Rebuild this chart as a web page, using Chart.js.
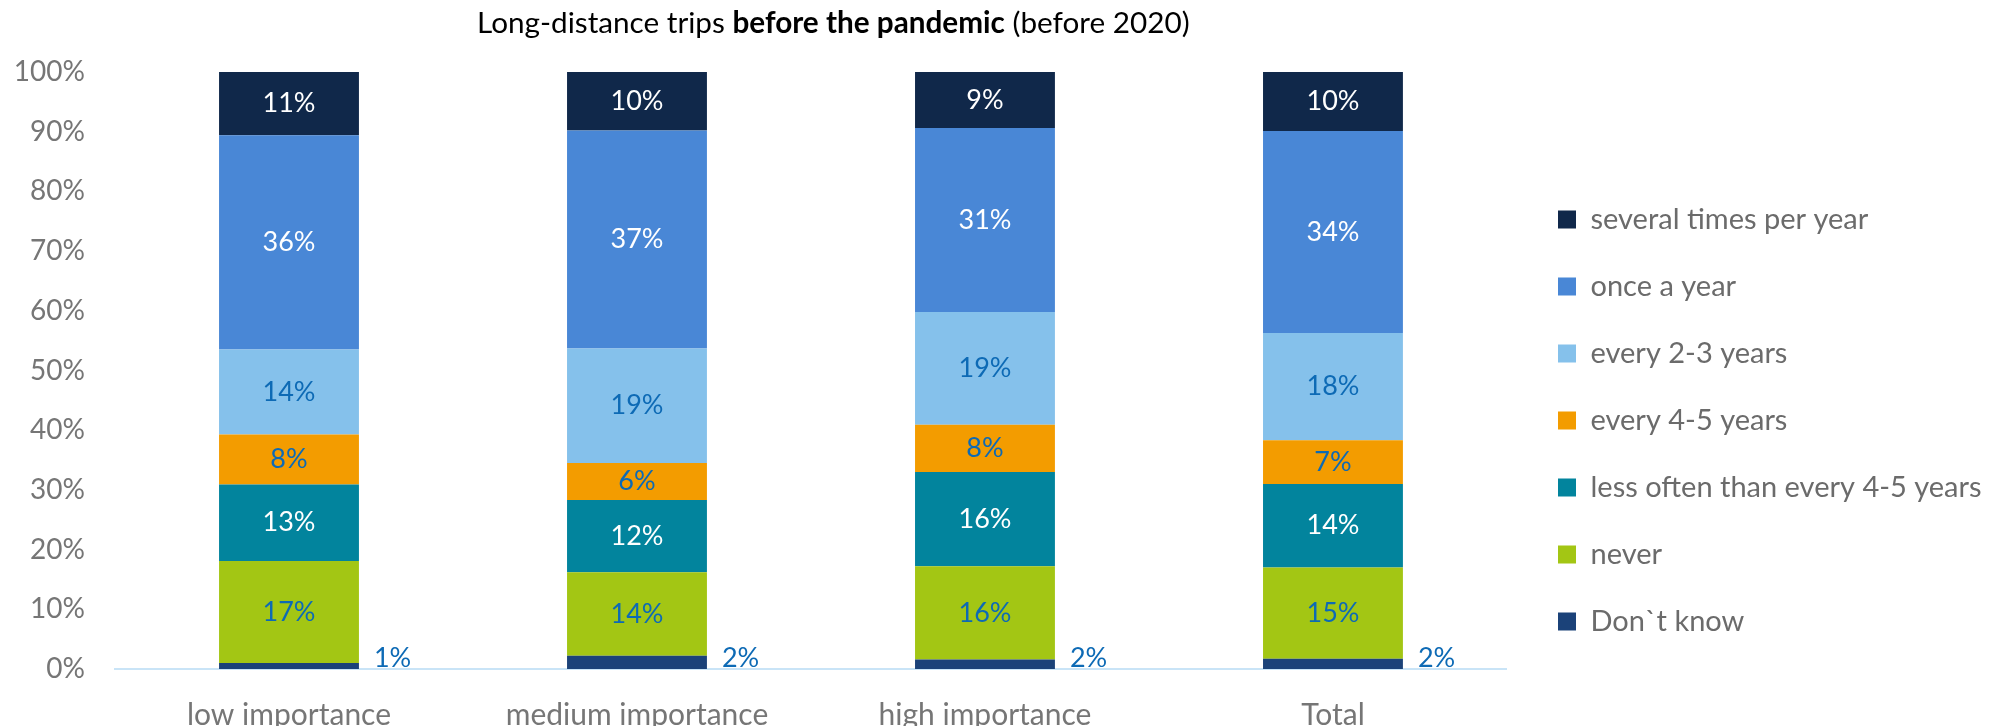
<!DOCTYPE html>
<html>
<head>
  <title>Long-distance trips before the pandemic</title>
  <script src="https://cdn.jsdelivr.net/npm/chart.js"></script>
  <style>
    body { margin: 0; background: #fff; font-family: Lato, sans-serif; }
    #wrap { position: relative; width: 2000px; height: 726px; }
    #title { position: absolute; left: 477px; top: 4px; font-size: 29.7px; color: #000; white-space: nowrap; }
  </style>
</head>
<body>
  <div id="wrap">
    <div id="title">Long-distance trips <b>before the pandemic</b> (before 2020)</div>
    <canvas id="tripChart" width="2000" height="726"></canvas>
  </div>

  <script>
    const categories = ["low importance", "medium importance", "high importance", "Total"];

    // shares in %, stacked from the bottom up
    const dontKnow     = [1.0, 2.2, 1.6, 1.7];
    const never        = [17.1, 14.0, 15.6, 15.3];
    const lessOften    = [12.8, 12.1, 15.8, 14.0];
    const every45      = [8.4, 6.2, 7.9, 7.3];
    const every23      = [14.2, 19.2, 18.9, 18.0];
    const onceAYear    = [35.9, 36.5, 30.8, 33.8];
    const severalTimes = [10.6, 9.8, 9.4, 9.9];

    const seriesNames = ["Don`t know", "never", "less often than every 4-5 years",
      "every 4-5 years", "every 2-3 years", "once a year", "several times per year"];
    const seriesData = [dontKnow, never, lessOften, every45, every23, onceAYear, severalTimes];
    const seriesColors = ["#1B4279", "#A3C614", "#02849D", "#F39C00", "#85C1EB", "#4987D6", "#10284A"];
    const labelColors = ["#0D6AB5", "#0D6AB5", "#ffffff", "#0D6AB5", "#0D6AB5", "#ffffff", "#ffffff"];

    const yTicks = [0, 10, 20, 30, 40, 50, 60, 70, 80, 90, 100];

    const GRAY = "#767676";

    // value labels: centred in each segment, "Don`t know" sits to the right of the bar
    const segmentLabels = {
      id: "segmentLabels",
      afterDatasetsDraw(chart) {
        const ctx = chart.ctx;
        ctx.save();
        ctx.font = "27px Lato";
        ctx.textBaseline = "middle";
        chart.data.datasets.forEach((ds, i) => {
          chart.getDatasetMeta(i).data.forEach((bar, j) => {
            const text = Math.round(ds.data[j]) + "%";
            ctx.fillStyle = labelColors[i];
            if (i === 0) {
              ctx.textAlign = "left";
              ctx.fillText(text, bar.x + bar.width / 2 + 15, bar.base - 11);
            } else {
              ctx.textAlign = "center";
              ctx.fillText(text, bar.x, (bar.y + bar.base) / 2);
            }
          });
        });
        ctx.restore();
      }
    };

    // move the legend column into place next to the plot
    const legendPlace = {
      id: "legendPlace",
      afterLayout(chart) {
        const lg = chart.legend;
        const dx = 1520 - lg.left, dy = 5;
        lg.left += dx; lg.right += dx;
        lg.top += dy; lg.bottom += dy;
      }
    };

    new Chart(document.getElementById("tripChart"), {
      type: "bar",
      data: {
        labels: categories,
        datasets: seriesNames.map((name, i) => ({
          label: name,
          data: seriesData[i],
          backgroundColor: seriesColors[i],
          borderWidth: 0,
          barPercentage: 0.402,
          categoryPercentage: 1
        }))
      },
      options: {
        responsive: false,
        animation: false,
        layout: { padding: { top: 72, right: 21.5, bottom: 0, left: 0 } },
        plugins: {
          legend: {
            position: "right",
            align: "end",
            fullSize: false,
            reverse: true,
            labels: {
              boxWidth: 18,
              boxHeight: 18,
              padding: 38,
              color: "#6B6B6B",
              font: { family: "Lato", size: 29 }
            }
          },
          tooltip: { enabled: false }
        },
        scales: {
          x: {
            stacked: true,
            grid: { display: false },
            border: { color: "#C9E4F7", width: 2 },
            ticks: { color: GRAY, padding: 20, font: { family: "Lato", size: 30 } },
            afterFit(s) { s.height = 57; }
          },
          y: {
            stacked: true,
            min: 0,
            max: 100,
            afterBuildTicks(s) { s.ticks = yTicks.map(v => ({ value: v })); },
            grid: { display: false, drawTicks: false },
            border: { display: false },
            ticks: {
              color: GRAY,
              padding: 30,
              font: { family: "Lato", size: 28 },
              callback: v => v + "%"
            },
            afterFit(s) { s.width = 115; }
          }
        }
      },
      plugins: [segmentLabels, legendPlace]
    });
  </script>
</body>
</html>
